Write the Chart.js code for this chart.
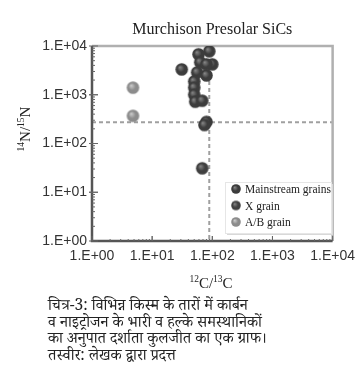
<!DOCTYPE html>
<html>
<head>
<meta charset="utf-8">
<script src="https://cdn.jsdelivr.net/npm/chart.js@4.4.1/dist/chart.umd.min.js"></script>
<style>
  html, body { margin: 0; padding: 0; background: #fff; }
  #wrap { position: relative; width: 362px; height: 392px; }
  #c { position: absolute; left: 0; top: 0; }
  #caption { position: absolute; left: 48px; top: 300px; font-family: "Noto Serif Devanagari", "Noto Sans Devanagari", "Lohit Devanagari", "FreeSerif", serif; font-size: 15.6px; line-height: 16.6px; color: #222; white-space: nowrap; }
</style>
</head>
<body>
<div id="wrap">
  <canvas id="c" width="362" height="392"></canvas>
  <div id="caption">चित्र-3: विभिन्न किस्म के तारों में कार्बन<br>व नाइट्रोजन के भारी व हल्के समस्थानिकों<br>का अनुपात दर्शाता कुलजीत का एक ग्राफ।<br>तस्वीर: लेखक द्वारा प्रदत्त</div>
</div>
<script>
// ---- data ----
const chartTitle = "Murchison Presolar SiCs";
const seriesNames = ["Mainstream grains", "X grain", "A/B grain"];
const mainstreamC = [89, 59, 63, 100, 80, 31, 56, 80, 50, 50, 50, 52, 68, 80, 74];
const mainstreamN = [7800, 6760, 4620, 4200, 4200, 3310, 2870, 2490, 1870, 1400, 1000, 720, 755, 277, 240];
const xGrainC = [68];
const xGrainN = [31];
const abGrainC = [4.8, 4.8];
const abGrainN = [1400, 369];
const xTickLabels = ["1.E+00", "1.E+01", "1.E+02", "1.E+03", "1.E+04"];
const yTickLabels = ["1.E+00", "1.E+01", "1.E+02", "1.E+03", "1.E+04"];
const solarC = 89;   // dashed reference lines
const solarN = 272;

function toPoints(xs, ys) { return xs.map((x, i) => ({ x: x, y: ys[i] })); }

function makeSphere(r, base, light) {
  const s = Math.ceil(2 * r + 2);
  const cv = document.createElement('canvas');
  cv.width = s; cv.height = s;
  const g = cv.getContext('2d');
  const c = s / 2;
  const grad = g.createRadialGradient(c - r * 0.3, c - r * 0.35, 0, c, c, r * 1.05);
  grad.addColorStop(0, light);
  grad.addColorStop(0.55, base);
  grad.addColorStop(1, base);
  g.fillStyle = grad;
  g.beginPath(); g.arc(c, c, r, 0, Math.PI * 2); g.fill();
  return cv;
}
const sphereDark = makeSphere(6.3, '#3c3c3c', '#8a8a8a');
const sphereX = makeSphere(6.3, '#404040', '#8a8a8a');
const sphereAB = makeSphere(6.3, '#8c8c8c', '#d0d0d0');
const legDark = makeSphere(4.8, '#3c3c3c', '#8a8a8a');
const legX = makeSphere(4.8, '#404040', '#8a8a8a');
const legAB = makeSphere(4.8, '#8c8c8c', '#d0d0d0');
const legendStyles = [legDark, legX, legAB];

function isPow10(v) { const l = Math.log10(v); return Math.abs(l - Math.round(l)) < 1e-9; }

const decor = {
  id: 'decor',
  beforeDatasetsDraw(chart) {
    const ctx = chart.ctx, a = chart.chartArea;
    const xs = chart.scales.x, ys = chart.scales.y;
    ctx.save();
    // dashed reference lines
    ctx.strokeStyle = '#a0a0a0';
    ctx.lineWidth = 2;
    ctx.setLineDash([4, 3]);
    const yy = ys.getPixelForValue(solarN);
    ctx.beginPath(); ctx.moveTo(a.left, yy); ctx.lineTo(a.right, yy); ctx.stroke();
    const xx = xs.getPixelForValue(solarC);
    ctx.beginPath(); ctx.moveTo(xx, a.top); ctx.lineTo(xx, a.bottom); ctx.stroke();
    ctx.setLineDash([]);
    // frame: top & right light
    ctx.strokeStyle = '#b0b0b0';
    ctx.lineWidth = 2.5;
    ctx.beginPath(); ctx.moveTo(a.left, a.top); ctx.lineTo(a.right, a.top); ctx.lineTo(a.right, a.bottom); ctx.stroke();
    // left & bottom axes darker
    ctx.strokeStyle = '#555';
    ctx.lineWidth = 2.5;
    ctx.beginPath(); ctx.moveTo(a.left, a.top); ctx.lineTo(a.left, a.bottom); ctx.lineTo(a.right, a.bottom); ctx.stroke();
    // minor ticks (inward)
    ctx.lineWidth = 1;
    ctx.strokeStyle = '#666';
    for (let e = 0; e < 4; e++) {
      for (let k = 1; k <= 10; k++) {
        const v = k * Math.pow(10, e);
        const py = ys.getPixelForValue(v);
        const len = (k === 1 || k === 10) ? 6 : 3;
        ctx.beginPath(); ctx.moveTo(a.left - (len > 3 ? 3 : 0), py); ctx.lineTo(a.left + len, py); ctx.stroke();
        const px = xs.getPixelForValue(v);
        ctx.beginPath(); ctx.moveTo(px, a.bottom); ctx.lineTo(px, a.bottom - len + 1); ctx.stroke();
      }
    }
    ctx.restore();
  },
  afterDatasetsDraw(chart) {
    const ctx = chart.ctx, a = chart.chartArea;
    ctx.save();
    // title
    ctx.fillStyle = '#222';
    ctx.font = '16px "Liberation Serif", serif';
    ctx.textAlign = 'center';
    ctx.textBaseline = 'alphabetic';
    ctx.fillText(chartTitle, (a.left + a.right) / 2, 34);
    // x axis title 12C/13C
    drawIso(ctx, 211, 288, [['12', true], ['C/', false], ['13', true], ['C', false]], false);
    // y axis title 14N/15N rotated
    ctx.save();
    ctx.translate(30, 129);
    ctx.rotate(-Math.PI / 2);
    drawIso(ctx, 0, 0, [['14', true], ['N/', false], ['15', true], ['N', false]], false);
    ctx.restore();
    // legend box
    const bx = 225, by = 182, bw = 106, bh = 51;
    ctx.fillStyle = '#d8d8d8';
    ctx.fillRect(bx + 2, by + 2, bw, bh);
    ctx.fillStyle = '#fff';
    ctx.fillRect(bx, by, bw, bh);
    ctx.strokeStyle = '#e6e6e6';
    ctx.lineWidth = 1;
    ctx.strokeRect(bx + 0.5, by + 0.5, bw, bh);
    ctx.font = '11.5px "Liberation Serif", serif';
    ctx.textAlign = 'left';
    ctx.textBaseline = 'middle';
    ctx.fillStyle = '#222';
    chart.data.datasets.forEach((ds, i) => {
      const cy = 189 + i * 16.5;
      const img = legendStyles[i];
      ctx.drawImage(img, 236 - img.width / 2, cy - img.height / 2);
      ctx.fillText(ds.label, 245, cy + 1);
    });
    ctx.restore();
  }
};

function drawIso(ctx, cx, baseY, parts) {
  const big = '15px "Liberation Serif", serif';
  const small = '9.5px "Liberation Serif", serif';
  let w = 0;
  parts.forEach(p => { ctx.font = p[1] ? small : big; w += ctx.measureText(p[0]).width; });
  let x = cx - w / 2;
  ctx.textAlign = 'left';
  ctx.textBaseline = 'alphabetic';
  ctx.fillStyle = '#222';
  parts.forEach(p => {
    ctx.font = p[1] ? small : big;
    ctx.fillText(p[0], x, p[1] ? baseY - 6 : baseY);
    x += ctx.measureText(p[0]).width;
  });
}

new Chart(document.getElementById('c'), {
  type: 'scatter',
  data: {
    datasets: [
      { label: seriesNames[0], data: toPoints(mainstreamC, mainstreamN), pointStyle: sphereDark, backgroundColor: '#3c3c3c' },
      { label: seriesNames[1], data: toPoints(xGrainC, xGrainN), pointStyle: sphereX, backgroundColor: '#404040' },
      { label: seriesNames[2], data: toPoints(abGrainC, abGrainN), pointStyle: sphereAB, backgroundColor: '#8c8c8c' }
    ]
  },
  options: {
    responsive: false,
    animation: false,
    events: [],
    layout: { padding: { left: 0, right: 28, top: 46, bottom: 121 } },
    plugins: { legend: { display: false }, title: { display: false }, tooltip: { enabled: false } },
    scales: {
      x: {
        type: 'logarithmic', min: 1, max: 10000,
        grid: { display: false, drawTicks: false },
        border: { display: false },
        ticks: {
          autoSkip: false, maxRotation: 0, padding: 7,
          color: '#333', font: { family: '"Liberation Sans", Arial, sans-serif', size: 14 },
          callback: (v) => isPow10(v) ? xTickLabels[Math.round(Math.log10(v))] : ''
        },
        afterFit: (s) => { s.height = 30; }
      },
      y: {
        type: 'logarithmic', min: 1, max: 10000,
        grid: { display: false, drawTicks: false },
        border: { display: false },
        ticks: {
          autoSkip: false, padding: 5,
          color: '#333', font: { family: '"Liberation Sans", Arial, sans-serif', size: 14 },
          callback: (v) => isPow10(v) ? yTickLabels[Math.round(Math.log10(v))] : ''
        },
        afterFit: (s) => { s.width = 92; }
      }
    }
  },
  plugins: [decor]
});
</script>
</body>
</html>
